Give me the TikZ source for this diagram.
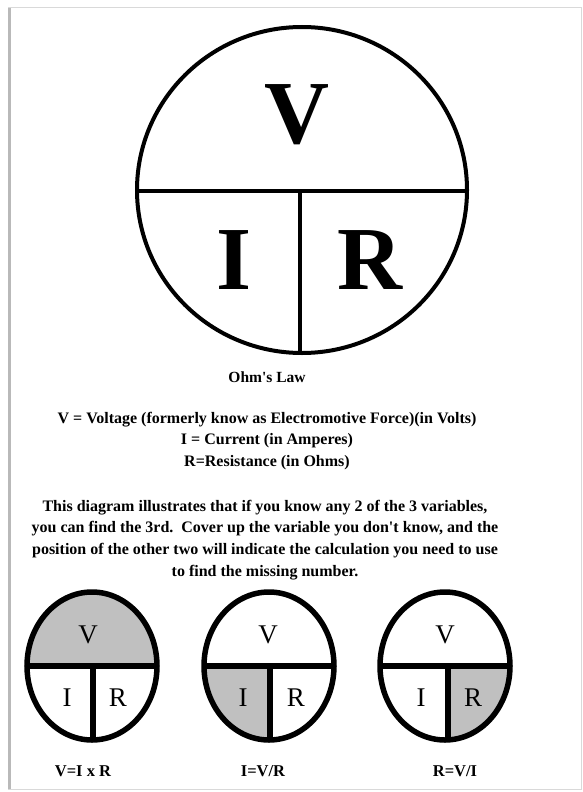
\documentclass[tikz,border=0pt]{standalone}
\usepackage{fontspec}
\setmainfont{Liberation Serif}
\definecolor{shadegray}{RGB}{192,192,192}
\begin{document}
\begin{tikzpicture}[x=1pt,y=-1pt,
  bigline/.style={line width=4pt},
  smline/.style={line width=5.5pt},
  bigletter/.style={font=\fontsize{90}{90}\selectfont\bfseries, inner sep=0pt},
  smletter/.style={font=\fontsize{27}{27}\selectfont, inner sep=0pt},
  bodytext/.style={font=\fontsize{16}{21.8}\selectfont\bfseries, align=center, inner sep=0pt},
  formula/.style={font=\fontsize{16.5}{16.5}\selectfont\bfseries, inner sep=0pt},
  frameline/.style={draw=gray!30, line width=1pt},
  shadowline/.style={draw=gray!55, line width=2.5pt}
]
\useasboundingbox (0,0) rectangle (583,792);
% frame
\draw[frameline] (8.5,7.5) rectangle (581,789);
\draw[shadowline] (9.5,8) -- (9.5,789);

% big circle
\coordinate (B) at (302,190);
\coordinate (BL) at (137,190.5);
\coordinate (BR) at (467,190.5);
\coordinate (BM) at (300,190.5);
\coordinate (BB) at (300,353);
\draw[bigline] (B) ellipse [x radius=165pt, y radius=163pt];
\draw[bigline] (BL) -- (BR);
\draw[bigline] (BM) -- (BB);
\node[bigletter] (bV) at (297,115) {V};
\node[bigletter] (bI) at (234,260) {I};
\node[bigletter] (bR) at (370,260) {R};

% texts
\node[bodytext, font=\fontsize{15.5}{15.5}\selectfont\bfseries] (title) at (267,377) {Ohm\textquotesingle s Law};
\node[bodytext] (defs) at (267,441) {V = Voltage (formerly know as Electromotive Force)(in Volts)\\
I = Current (in Amperes)\\
R=Resistance (in Ohms)};
\node[bodytext] (para) at (265,540) {This diagram illustrates that if you know any 2 of the 3 variables,\\
you can find the 3rd.\ \ Cover up the variable you don\textquotesingle t know, and the\\
position of the other two will indicate the calculation you need to use\\
to find the missing number.};

% small circle 1 : V shaded
\coordinate (c1) at (92,666);
\begin{scope}
  \clip (c1) ellipse [x radius=65pt, y radius=74pt];
  \fill[shadegray] (20,585) rectangle (165,666);
\end{scope}
\coordinate (c1L) at (27,666);
\coordinate (c1R) at (157,666);
\coordinate (c1M) at (93,666);
\coordinate (c1B) at (93,740);
\draw[smline] (c1) ellipse [x radius=65pt, y radius=74pt];
\draw[smline] (c1L) -- (c1R);
\draw[smline] (c1M) -- (c1B);
\node[smletter] (s1V) at (88,635) {V};
\node[smletter] (s1I) at (67,698) {I};
\node[smletter] (s1R) at (118,698) {R};
\node[formula] (f1) at (83,771) {V=I x R};

% small circle 2 : I shaded
\coordinate (c2) at (269,666);
\begin{scope}
  \clip (c2) ellipse [x radius=65pt, y radius=74pt];
  \fill[shadegray] (195,666) rectangle (270,745);
\end{scope}
\coordinate (c2L) at (204,666);
\coordinate (c2R) at (334,666);
\coordinate (c2M) at (270,666);
\coordinate (c2B) at (270,740);
\draw[smline] (c2) ellipse [x radius=65pt, y radius=74pt];
\draw[smline] (c2L) -- (c2R);
\draw[smline] (c2M) -- (c2B);
\node[smletter] (s2V) at (268,635) {V};
\node[smletter] (s2I) at (243,698) {I};
\node[smletter] (s2R) at (296,698) {R};
\node[formula] (f2) at (263,771) {I=V/R};

% small circle 3 : R shaded
\coordinate (c3) at (445,666);
\begin{scope}
  \clip (c3) ellipse [x radius=65pt, y radius=74pt];
  \fill[shadegray] (448,666) rectangle (515,745);
\end{scope}
\coordinate (c3L) at (378,666);
\coordinate (c3R) at (510,666);
\coordinate (c3M) at (448,666);
\coordinate (c3B) at (448,740);
\draw[smline] (c3) ellipse [x radius=65pt, y radius=74pt];
\draw[smline] (c3L) -- (c3R);
\draw[smline] (c3M) -- (c3B);
\node[smletter] (s3V) at (445,635) {V};
\node[smletter] (s3I) at (421,698) {I};
\node[smletter] (s3R) at (473,698) {R};
\node[formula] (f3) at (455,771) {R=V/I};
\end{tikzpicture}
\end{document}
